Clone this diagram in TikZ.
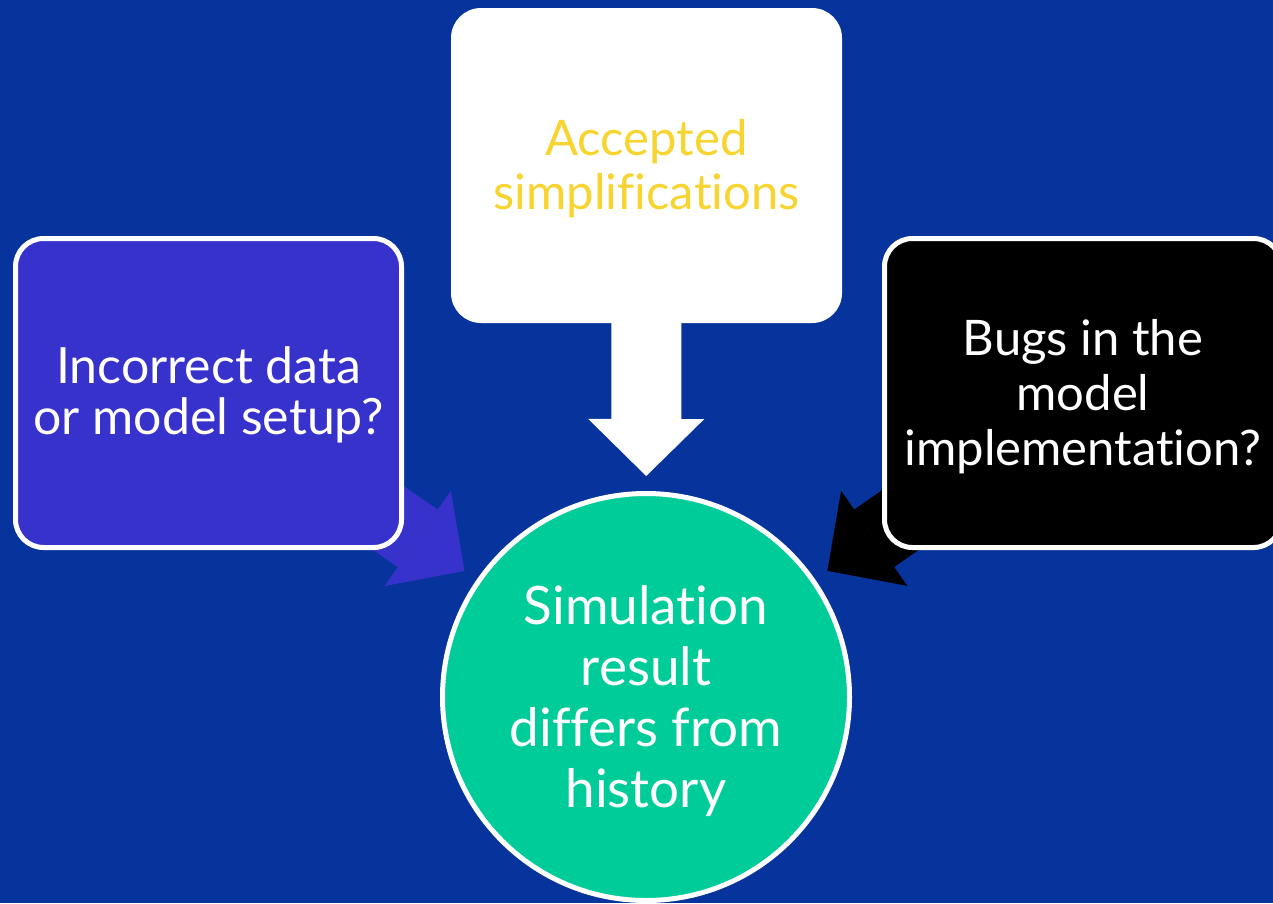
\documentclass[tikz,border=0pt]{standalone}
\usepackage{fontspec}
\setmainfont{Lato}[Ligatures={NoCommon}]
\usetikzlibrary{arrows.meta}
\definecolor{bgblue}{RGB}{6,52,156}
\definecolor{boxpurple}{RGB}{56,50,204}
\definecolor{circgreen}{RGB}{0,204,153}
\definecolor{txtyellow}{RGB}{247,212,47}
\pgfdeclarelayer{bg}
\pgfdeclarelayer{arrowlayer}
\pgfsetlayers{bg,arrowlayer,main}
\tikzset{
  qbox/.style={rectangle, rounded corners=28pt, minimum width=386pt, minimum height=309pt,
    line width=5pt, draw=white, inner sep=0pt},
  qtext/.style={align=center, inner sep=0pt},
  fatarrow/.style={line width=70pt, -{Triangle[length=57pt,width=116pt,line width=0pt]}, shorten >=15pt},
}
\begin{document}
\begin{tikzpicture}[x=1pt,y=-1pt]
\begin{pgfonlayer}{bg}
\fill[bgblue] (0,0) rectangle (1273,903);
\end{pgfonlayer}
\useasboundingbox (0,0) rectangle (1273,903);

\node[qbox, fill=boxpurple,
  label={[qtext, name=lefttext, yshift=-2pt, text=white, font=\fontsize{50}{51}\selectfont]center:{Incorrect data\\or model setup?}}]
  (left) at (208.5,393) {};
\node[qbox, draw=none, minimum width=391pt, minimum height=315pt, rounded corners=30pt, fill=white,
  label={[qtext, name=toptext, yshift=-3pt, text=txtyellow, font=\fontsize{49}{54}\selectfont]center:{Accepted\\simplifications}}]
  (top) at (646.5,165.5) {};
\node[qbox, minimum width=397pt, fill=black,
  label={[qtext, name=righttext, yshift=-4pt, text=white, font=\fontsize{49}{55}\selectfont]center:{Bugs in the\\model\\implementation?}}]
  (right) at (1083,393) {};
\node[circle, minimum size=407pt, line width=5pt, draw=white, fill=circgreen, inner sep=0pt,
  label={[qtext, name=circtext, yshift=-4pt, text=white, font=\fontsize{53}{61}\selectfont]center:{Simulation\\result\\differs from\\history}}]
  (circ) at (646,697) {};

\begin{pgfonlayer}{arrowlayer}
\draw[fatarrow, white] (top.center) -- (circ);
\draw[fatarrow, boxpurple] (left.center) -- (circ);
\draw[fatarrow, black] (right.center) -- (circ);
\end{pgfonlayer}
\end{tikzpicture}
\end{document}
